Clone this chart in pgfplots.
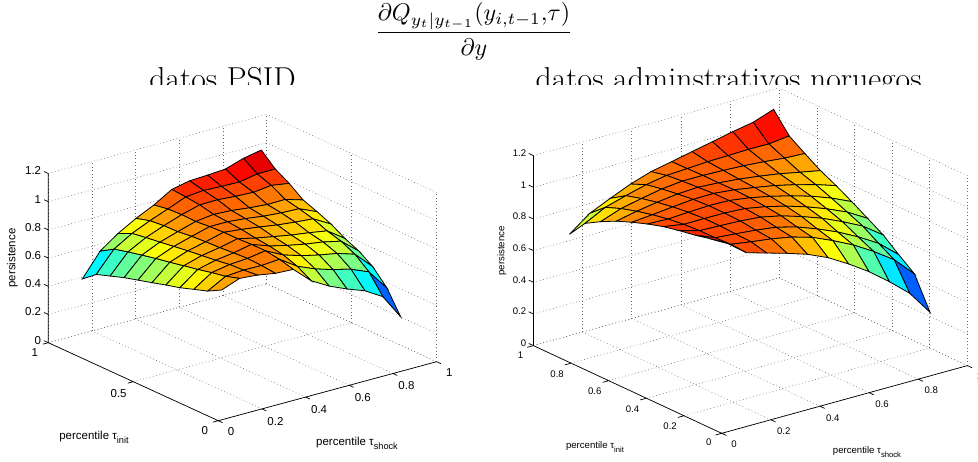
\documentclass[border=0pt]{standalone}
\usepackage{fontspec}
\usepackage{pgfplots}
\pgfplotsset{compat=1.18}
\newfontfamily\hv{Liberation Sans}
\newcommand\fA{\hv\fontsize{11.5}{13}\selectfont}
\newcommand\fB{\hv\fontsize{9.6}{11}\selectfont}
\newcommand\subs[1]{\raisebox{-.35em}{\scalebox{.8}{#1}}}
\pgfplotsset{
 colormap={myjet}{rgb=(0,0,.5) rgb=(0,0,1) rgb=(0,.5,1) rgb=(0,1,1) rgb=(.5,1,.5) rgb=(1,1,0) rgb=(1,.5,0) rgb=(1,0,0) rgb=(.5,0,0)},
 common/.style={
  clip=false, xmin=0,xmax=1,ymin=0,ymax=1,zmin=0,zmax=1.2,
  anchor=origin, axis line style={draw=none},
  grid=major, grid style={dash pattern=on .8pt off 2.6pt,color=black!60,line width=.5pt},
  tick align=outside, major tick length=4pt, tick style={draw=none},
  xtick pos=left, ytick pos=left, ztick pos=left,
  xtick={0,.2,.4,.6,.8,1}, ztick={0,.2,.4,.6,.8,1,1.2},
  /pgf/number format/assume math mode=true, scaled ticks=false,
  x tick label style={xshift=4pt,yshift=-1.5pt},
  y tick label style={xshift=-3.5pt,yshift=-1pt},
  colormap name=myjet},
 srf/.style={surf, shader=faceted, faceted color=black, line width=.8pt, z buffer=sort, mesh/rows=11},
 ax/.style={black,line width=.7pt,no marks,forget plot}
}
\begin{document}
\begin{tikzpicture}[x=1pt,y=1pt]
\path[use as bounding box] (0,0) rectangle (978,461);
\node[scale=2.4,inner sep=0] at (474,429.6) {$\displaystyle\frac{\partial Q_{y_t|y_{t-1}}(y_{i,t-1},\!\tau)}{\partial y}$};
\begin{scope}
\clip (0,376) rectangle (978,400);
\node[anchor=base,inner sep=0] at (222.5,371.7) {\fontsize{31.7}{32}\selectfont datos PSID};
\node[anchor=base,inner sep=0] at (728.7,371.7) {\fontsize{31.7}{32}\selectfont datos adminstrativos noruegos};
\end{scope}
\begin{axis}[common, at={(218.3pt,40.3pt)},
  x={(218.3pt,59pt)}, y={(-170pt,78pt)}, z={(0pt,141pt)},
  ytick={0,.5,1}, tick label style={font=\fA},
  point meta min=.32, point meta max=1.08]
\addplot3[srf] coordinates {
(.07,.07,.859)(.152,.07,.907)(.234,.07,.896)(.316,.07,.874)(.398,.07,.868)(.48,.07,.753)(.562,.07,.681)(.644,.07,.626)(.726,.07,.579)(.808,.07,.503)(.89,.07,.326)

(.07,.152,.806)(.152,.152,.876)(.234,.152,.886)(.316,.152,.884)(.398,.152,.894)(.48,.152,.810)(.562,.152,.757)(.644,.152,.718)(.726,.152,.687)(.808,.152,.634)(.89,.152,.487)

(.07,.234,.773)(.152,.234,.857)(.234,.234,.880)(.316,.234,.889)(.398,.234,.909)(.48,.234,.845)(.562,.234,.806)(.644,.234,.776)(.726,.234,.753)(.808,.234,.713)(.89,.234,.590)

(.07,.316,.739)(.152,.316,.834)(.234,.316,.865)(.316,.316,.883)(.398,.316,.909)(.48,.316,.863)(.562,.316,.833)(.644,.316,.808)(.726,.316,.789)(.808,.316,.760)(.89,.316,.656)

(.07,.398,.713)(.152,.398,.815)(.234,.398,.853)(.316,.398,.875)(.398,.398,.904)(.48,.398,.874)(.562,.398,.850)(.644,.398,.827)(.726,.398,.809)(.808,.398,.788)(.89,.398,.700)

(.07,.48,.684)(.152,.48,.795)(.234,.48,.841)(.316,.48,.871)(.398,.48,.904)(.48,.48,.890)(.562,.48,.873)(.644,.48,.853)(.726,.48,.839)(.808,.48,.828)(.89,.48,.757)

(.07,.562,.657)(.152,.562,.776)(.234,.562,.827)(.316,.562,.864)(.398,.562,.899)(.48,.562,.899)(.562,.562,.887)(.644,.562,.870)(.726,.562,.859)(.808,.562,.854)(.89,.562,.799)

(.07,.644,.629)(.152,.644,.755)(.234,.644,.812)(.316,.644,.852)(.398,.644,.890)(.48,.644,.906)(.562,.644,.899)(.644,.644,.884)(.726,.644,.873)(.808,.644,.875)(.89,.644,.837)

(.07,.726,.595)(.152,.726,.732)(.234,.726,.799)(.316,.726,.849)(.398,.726,.893)(.48,.726,.928)(.562,.726,.930)(.644,.726,.920)(.726,.726,.914)(.808,.726,.929)(.89,.726,.909)

(.07,.808,.561)(.152,.808,.707)(.234,.808,.783)(.316,.808,.839)(.398,.808,.888)(.48,.808,.939)(.562,.808,.951)(.644,.808,.945)(.726,.808,.942)(.808,.808,.965)(.89,.808,.966)

(.07,.89,.483)(.152,.89,.647)(.234,.89,.738)(.316,.89,.810)(.398,.89,.871)(.48,.89,.947)(.562,.89,.974)(.644,.89,.980)(.726,.89,.989)(.808,.89,1.030)(.89,.89,1.055)
};
\addplot3[ax] coordinates {(0,-.025,0)(0,0,0)(.2,0,0)(.2,-.025,0)(.2,0,0)(.4,0,0)(.4,-.025,0)(.4,0,0)(.6,0,0)(.6,-.025,0)(.6,0,0)(.8,0,0)(.8,-.025,0)(.8,0,0)(1,0,0)(1,-.025,0)};
\addplot3[ax] coordinates {(-.025,0,0)(0,0,0)(0,.5,0)(-.025,.5,0)(0,.5,0)(0,1,0)(-.025,1,0)};
\addplot3[ax] coordinates {(0,1.025,0)(0,1,0)(0,1,.2)(0,1.025,.2)(0,1,.2)(0,1,.4)(0,1.025,.4)(0,1,.4)(0,1,.6)(0,1.025,.6)(0,1,.6)(0,1,.8)(0,1.025,.8)(0,1,.8)(0,1,1)(0,1.025,1)(0,1,1)(0,1,1.2)(0,1.025,1.2)};
\end{axis}
\begin{axis}[common, at={(721.7pt,27.7pt)},
  x={(245.7pt,67.7pt)}, y={(-188.3pt,87.7pt)}, z={(0pt,158.3pt)},
  ytick={0,.2,.4,.6,.8,1}, tick label style={font=\fB},
  point meta min=.31, point meta max=1.205]
\addplot3[srf] coordinates {
(.073,.073,1.133)(.156,.073,1.034)(.239,.073,.996)(.322,.073,.959)(.405,.073,.917)(.489,.073,.860)(.572,.073,.785)(.655,.073,.701)(.738,.073,.602)(.821,.073,.493)(.904,.073,.337)

(.073,.156,1.111)(.156,.156,1.041)(.239,.156,1.021)(.322,.156,1.004)(.405,.156,.980)(.489,.156,.942)(.572,.156,.886)(.655,.156,.823)(.738,.156,.747)(.821,.156,.660)(.904,.156,.534)

(.073,.239,1.089)(.156,.239,1.036)(.239,.239,1.025)(.322,.239,1.013)(.405,.239,.996)(.489,.239,.962)(.572,.239,.914)(.655,.239,.859)(.738,.239,.793)(.821,.239,.717)(.904,.239,.609)

(.073,.322,1.071)(.156,.322,1.035)(.239,.322,1.030)(.322,.322,1.025)(.405,.322,1.014)(.489,.322,.986)(.572,.322,.946)(.655,.322,.900)(.738,.322,.843)(.821,.322,.779)(.904,.322,.688)

(.073,.405,1.050)(.156,.405,1.029)(.239,.405,1.030)(.322,.405,1.029)(.405,.405,1.022)(.489,.405,.998)(.572,.405,.966)(.655,.405,.926)(.738,.405,.878)(.821,.405,.822)(.904,.405,.747)

(.073,.489,1.020)(.156,.489,1.016)(.239,.489,1.023)(.322,.489,1.029)(.405,.489,1.026)(.489,.489,1.008)(.572,.489,.981)(.655,.489,.949)(.738,.489,.911)(.821,.489,.864)(.904,.489,.806)

(.073,.572,.985)(.156,.572,.997)(.239,.572,1.011)(.322,.572,1.023)(.405,.572,1.025)(.489,.572,1.012)(.572,.572,.991)(.655,.572,.968)(.738,.572,.938)(.821,.572,.903)(.904,.572,.861)

(.073,.655,.946)(.156,.655,.973)(.239,.655,.994)(.322,.655,1.011)(.405,.655,1.018)(.489,.655,1.010)(.572,.655,.998)(.655,.655,.981)(.738,.655,.961)(.821,.655,.935)(.904,.655,.910)

(.073,.738,.897)(.156,.738,.944)(.239,.738,.972)(.322,.738,.997)(.405,.738,1.011)(.489,.738,1.011)(.572,.738,1.007)(.655,.738,1.001)(.738,.738,.991)(.821,.738,.978)(.904,.738,.972)

(.073,.821,.840)(.156,.821,.906)(.239,.821,.944)(.322,.821,.978)(.405,.821,1.001)(.489,.821,1.008)(.572,.821,1.016)(.655,.821,1.019)(.738,.821,1.023)(.821,.821,1.022)(.904,.821,1.037)

(.073,.904,.725)(.156,.904,.822)(.239,.904,.881)(.322,.904,.936)(.405,.904,.979)(.489,.904,1.006)(.572,.904,1.034)(.655,.904,1.061)(.738,.904,1.089)(.821,.904,1.113)(.904,.904,1.159)
};
\addplot3[ax] coordinates {(0,-.025,0)(0,0,0)(.2,0,0)(.2,-.025,0)(.2,0,0)(.4,0,0)(.4,-.025,0)(.4,0,0)(.6,0,0)(.6,-.025,0)(.6,0,0)(.8,0,0)(.8,-.025,0)(.8,0,0)(1,0,0)(1,-.025,0)};
\addplot3[ax] coordinates {(-.025,0,0)(0,0,0)(0,.2,0)(-.025,.2,0)(0,.2,0)(0,.4,0)(-.025,.4,0)(0,.4,0)(0,.6,0)(-.025,.6,0)(0,.6,0)(0,.8,0)(-.025,.8,0)(0,.8,0)(0,1,0)(-.025,1,0)};
\addplot3[ax] coordinates {(0,1.025,0)(0,1,0)(0,1,.2)(0,1.025,.2)(0,1,.2)(0,1,.4)(0,1.025,.4)(0,1,.4)(0,1,.6)(0,1.025,.6)(0,1,.6)(0,1,.8)(0,1.025,.8)(0,1,.8)(0,1,1)(0,1.025,1)(0,1,1)(0,1,1.2)(0,1.025,1.2)};
\end{axis}
\node[rotate=90,font=\fA] at (12.3,203) {persistence};
\node[font=\fA] at (94,24) {percentile τ\subs{init}};
\node[font=\fA] at (357,18) {percentile τ\subs{shock}};
\node[rotate=90,font=\fB] at (502,210) {persistence};
\node[font=\fB] at (595,14) {percentile τ\subs{init}};
\node[font=\fB] at (867,9) {percentile τ\subs{shock}};
\end{tikzpicture}
\end{document}
